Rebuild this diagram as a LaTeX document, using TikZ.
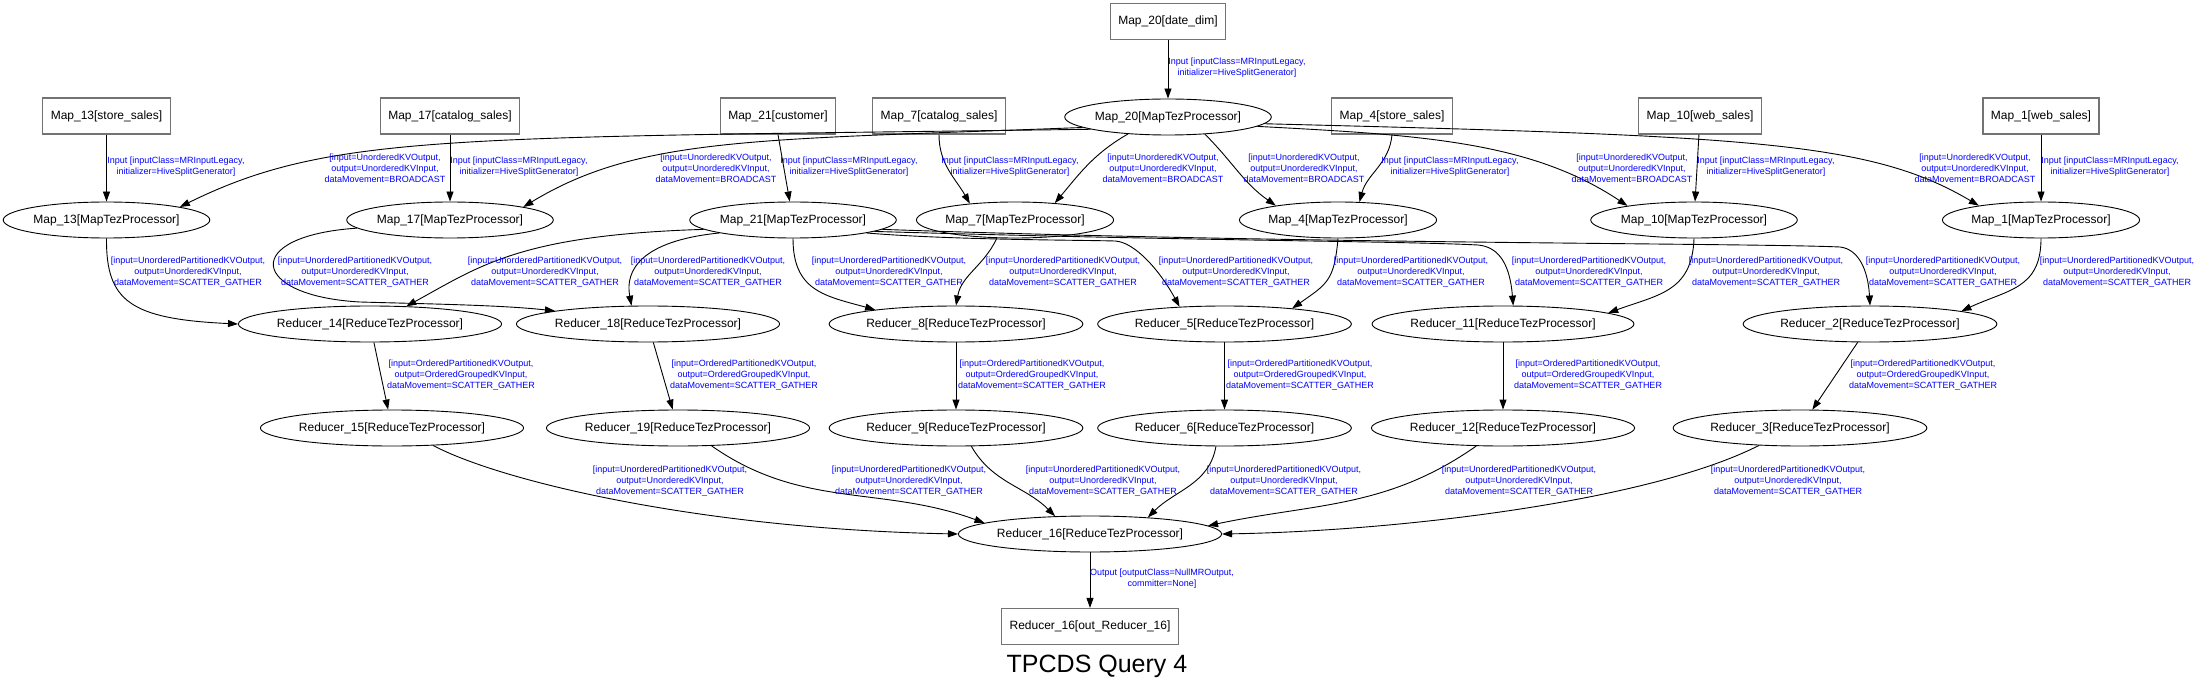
\documentclass[tikz,border=0pt]{standalone}
\usepackage{fontspec}
\setmainfont{Liberation Sans}
\usetikzlibrary{shapes.geometric,arrows.meta}

\newcommand{\inputlbl}{Input [inputClass=MRInputLegacy,\\initializer=HiveSplitGenerator]}
\newcommand{\bcastlbl}{[input=UnorderedKVOutput,\\output=UnorderedKVInput,\\dataMovement=BROADCAST}
\newcommand{\scatterlbl}{[input=UnorderedPartitionedKVOutput,\\output=UnorderedKVInput,\\dataMovement=SCATTER\_GATHER}
\newcommand{\orderedlbl}{[input=OrderedPartitionedKVOutput,\\output=OrderedGroupedKVInput,\\dataMovement=SCATTER\_GATHER}

\begin{document}
\begin{tikzpicture}[x=1pt,y=1pt,
  src/.style={draw=black!55, line width=1.2pt, rectangle, minimum height=36pt, inner xsep=8pt, font=\fontsize{12}{14}\selectfont},
  proc/.style={draw, line width=0.9pt, ellipse, minimum height=36pt, inner xsep=0pt, inner ysep=0pt, font=\fontsize{12}{14}\selectfont},
  lbl/.style={text=blue, align=center, inner sep=0pt, font=\fontsize{9}{11}\selectfont},
  flow/.style={draw, line width=0.9pt, -{Triangle[length=10pt,width=7pt]}}]
\useasboundingbox (0,0) rectangle (2202,681);

% tables
\node[src] (b20) at (1168,659.5) {Map\_20[date\_dim]};
\foreach \n/\x/\tname in {13/106.5/store\_sales, 17/450/catalog\_sales, 21/778/customer, 7/939/catalog\_sales, 4/1392/store\_sales, 10/1700/web\_sales, 1/2041/web\_sales}
  \node[src] (b\n) at (\x,565) {Map\_\n[\tname]};

% processors
\node[proc] (m20) at (1168,564) {Map\_20[MapTezProcessor]};
\foreach \n/\x in {13/106.5, 17/450, 21/793, 7/1015, 4/1338, 10/1694, 1/2041}
  \node[proc] (m\n) at (\x,461) {Map\_\n[MapTezProcessor]};
\foreach \n/\x in {14/370, 18/648, 8/956, 5/1224.5, 11/1503, 2/1870}
  \node[proc] (r\n) at (\x,357) {Reducer\_\n[ReduceTezProcessor]};
\foreach \n/\x in {15/392, 19/678, 9/956, 6/1224.5, 12/1503, 3/1800}
  \node[proc] (r\n) at (\x,253) {Reducer\_\n[ReduceTezProcessor]};
\node[proc] (r16) at (1090,147) {Reducer\_16[ReduceTezProcessor]};
\node[src] (out) at (1090,54.5) {Reducer\_16[out\_Reducer\_16]};

% inputs
\draw[flow] (b20) -- (m20);
\foreach \n in {13,17,10,1}
  \draw[flow] (b\n) -- (m\n);
\draw[flow] (b21.south) -- (m21.100);
\draw[flow] (b7.south) to[out=-90,in=120] (m7.160);
\draw[flow] (b4.south) to[out=-95,in=75] (m4.40);

% broadcast from Map_20
\draw[flow] (m20.189) .. controls (450,543) and (330,548) .. (m13.north east);
\draw[flow] (m20.187) .. controls (760,541) and (640,545) .. (m17.north east);
\draw[flow] (m20.203) to[out=210,in=50] (m7.23);
\draw[flow] (m20.-25) to[out=-45,in=145] (m4.167);
\draw[flow] (m20.-6) .. controls (1420,546) and (1530,540) .. (m10.168);
\draw[flow] (m20.-4) .. controls (1750,545) and (1870,540) .. (m1.167);

% maps to reducers
\draw[flow] (m13.south) .. controls (106,380) and (130,362) .. (r14.west);
\draw[flow] (m17.185) .. controls (240,445) and (250,385) .. (360,379) .. controls (430,377) and (500,376) .. (r18.172);
\draw[flow] (m21.186) .. controls (520,446) and (480,415) .. (r14.26);
\draw[flow] (m21.190) .. controls (640,440) and (625,410) .. (r18.132);
\draw[flow] (m21.south) .. controls (793,390) and (825,385) .. (r8.170);
\draw[flow] (m7.225) to[out=-115,in=80] (r8.north);
\draw[flow] (m21.-10) .. controls (950,441) and (1080,441) .. (1115,440) .. controls (1135,439) and (1160,410) .. (r5.159);
\draw[flow] (m4.south) to[out=-95,in=35,looseness=1.3] (r5.13);
\draw[flow] (m21.-8) .. controls (1200,440) and (1400,440) .. (1478,436) .. controls (1500,434) and (1510,415) .. (r11.61);
\draw[flow] (m10.south) to[out=-92,in=20,looseness=1.2] (r11.6);
\draw[flow] (m21.-6) .. controls (1300,437) and (1750,438) .. (1840,434) .. controls (1858,432) and (1868,412) .. (r2.north);
\draw[flow] (m1.south) to[out=-90,in=25,looseness=1.2] (r2.8);

% reducers
\foreach \a/\b in {14/15, 18/19, 8/9, 5/6, 11/12, 2/3}
  \draw[flow] (r\a) -- (r\b);
\draw[flow] (r15.-23) .. controls (500,200) and (700,152) .. (r16.west);
\draw[flow] (r19.-28) to[out=-35,in=160] (r16.174);
\draw[flow] (r9.-50) to[out=-60,in=135] (r16.153);
\draw[flow] (r6.245) to[out=-100,in=45] (r16.16);
\draw[flow] (r12.214) to[out=-145,in=12] (r16.4);
\draw[flow] (r3.203) .. controls (1650,180) and (1400,150) .. (r16.east);
\draw[flow] (r16) -- (out);

% edge labels
\node[lbl] (in0) at (1237,613) {\inputlbl};
\foreach \x [count=\i] in {176,519,849,1010,1450,1766,2110}
  \node[lbl] (in\i) at (\x,514) {\inputlbl};
\foreach \x [count=\i] in {385,716,1163,1304,1632,1975}
  \node[lbl] (bc\i) at (\x,513) {\bcastlbl};
\foreach \x [count=\i] in {188,355,545,708,889,1063,1236,1411,1589,1766,1943,2117}
  \node[lbl] (sg\i) at (\x,409) {\scatterlbl};
\foreach \x [count=\i] in {461,744,1032,1300,1588,1923}
  \node[lbl] (og\i) at (\x,306) {\orderedlbl};
\foreach \x [count=\i] in {670,909,1103,1284,1519,1788}
  \node[lbl] (rg\i) at (\x,200) {\scatterlbl};
\node[lbl] (outlbl) at (1162,102) {Output [outputClass=NullMROutput,\\committer=None]};

\node[font=\fontsize{25}{30}\selectfont, anchor=base] (title) at (1097,9) {TPCDS Query 4};
\end{tikzpicture}
\end{document}
